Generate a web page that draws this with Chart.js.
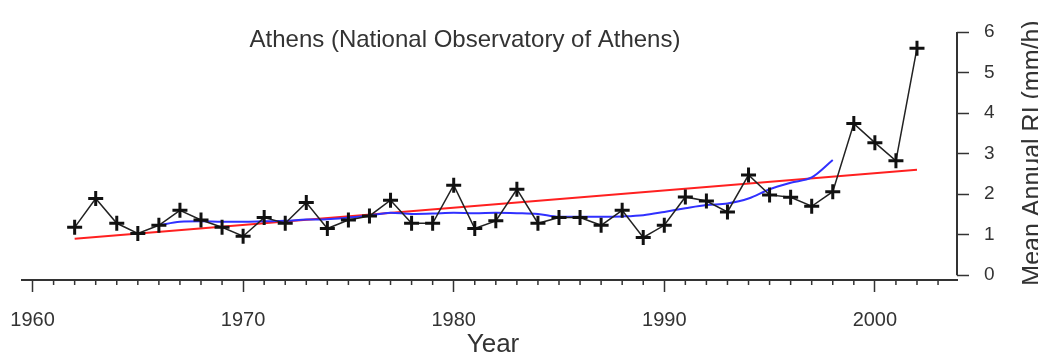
<!DOCTYPE html>
<html>
<head>
<meta charset="utf-8">
<script src="https://cdn.jsdelivr.net/npm/chart.js@4"></script>
<style>
  html, body { margin: 0; padding: 0; background: #fff; }
  #wrap { width: 1038px; height: 354px; }
</style>
</head>
<body>
<div id="wrap"><canvas id="chart"></canvas></div>
<script>
// Mean annual rain intensity, Athens (National Observatory of Athens)
const years = [1962, 1963, 1964, 1965, 1966, 1967, 1968, 1969, 1970, 1971,
               1972, 1973, 1974, 1975, 1976, 1977, 1978, 1979, 1980, 1981,
               1982, 1983, 1984, 1985, 1986, 1987, 1988, 1989, 1990, 1991,
               1992, 1993, 1994, 1995, 1996, 1997, 1998, 1999, 2000, 2001, 2002];
const riValues = [1.18, 1.89, 1.28, 1.03, 1.23, 1.60, 1.36, 1.18, 0.96, 1.42,
                  1.28, 1.79, 1.15, 1.36, 1.46, 1.85, 1.28, 1.28, 2.22, 1.15,
                  1.34, 2.12, 1.28, 1.42, 1.42, 1.23, 1.60, 0.93, 1.23, 1.93,
                  1.83, 1.56, 2.47, 1.98, 1.92, 1.70, 2.06, 3.74, 3.27, 2.82, 5.60];

// smoothed curve (blue)
const smoothYears = [1966, 1967, 1968, 1969, 1970, 1971, 1972, 1973, 1974, 1975,
                     1976, 1977, 1978, 1979, 1980, 1981, 1982, 1983, 1984, 1985,
                     1986, 1987, 1988, 1989, 1990, 1991, 1992, 1993, 1994, 1995,
                     1996, 1997, 1998];
const smoothValues = [1.23, 1.32, 1.33, 1.32, 1.32, 1.33, 1.34, 1.37, 1.38, 1.42,
                      1.47, 1.54, 1.51, 1.52, 1.54, 1.53, 1.54, 1.53, 1.51, 1.44,
                      1.44, 1.44, 1.45, 1.48, 1.56, 1.65, 1.73, 1.77, 1.89, 2.12,
                      2.28, 2.41, 2.84];

// linear trend (red)
const trendYears = [1962, 2002];
const trendValues = [0.90, 2.60];

const xTicks = [];
for (let y = 1960; y <= 2003; y++) xTicks.push(y);
const yTicks = [0, 1, 2, 3, 4, 5, 6];

const FONT = '"Liberation Sans", Arial, sans-serif';
const TXT = '#333';

const toPoints = (xs, ys) => xs.map((x, i) => ({ x: x, y: ys[i] }));

// titles, minor year ticks and the right axis line (0..6 only) drawn by hand
const extras = {
    id: 'extras',
    afterDraw(chart) {
        const c = chart.ctx;
        const xs = chart.scales.x;
        const ys = chart.scales.y;
        const area = chart.chartArea;
        c.save();
        c.strokeStyle = TXT;
        c.lineWidth = 1.5;
        xTicks.forEach(v => {
            if (v % 10 === 0) return;
            const px = xs.getPixelForValue(v);
            c.beginPath();
            c.moveTo(px, area.bottom);
            c.lineTo(px, area.bottom + 5);
            c.stroke();
        });

        c.lineWidth = 2;
        c.beginPath();
        c.moveTo(area.right, ys.getPixelForValue(yTicks[0]));
        c.lineTo(area.right, ys.getPixelForValue(yTicks[yTicks.length - 1]));
        c.stroke();

        c.fillStyle = TXT;
        c.textAlign = 'center';
        c.textBaseline = 'middle';
        c.font = '24px ' + FONT;
        c.fillText('Athens (National Observatory of Athens)', 465, 40);

        c.font = '26px ' + FONT;
        c.fillText('Year', 493, 345);

        c.font = '25px ' + FONT;
        c.translate(1033, 153);
        c.rotate(-Math.PI / 2);
        c.fillText('Mean Annual RI (mm/h)', 0, 0);
        c.restore();
    }
};

new Chart(document.getElementById('chart'), {
    type: 'line',
    data: {
        datasets: [{
            label: 'RI',
            data: toPoints(years, riValues),
            borderColor: '#222',
            borderWidth: 1.5,
            pointStyle: 'cross',
            pointRadius: 7.5,
            pointBorderWidth: 3,
            pointBorderColor: '#111',
            tension: 0,
            order: 1
        }, {
            label: 'smooth',
            data: toPoints(smoothYears, smoothValues),
            borderColor: '#3030ff',
            borderWidth: 2,
            pointRadius: 0,
            cubicInterpolationMode: 'monotone',
            order: 2
        }, {
            label: 'trend',
            data: toPoints(trendYears, trendValues),
            borderColor: '#ff2020',
            borderWidth: 2,
            pointRadius: 0,
            order: 3
        }]
    },
    options: {
        responsive: true,
        maintainAspectRatio: false,
        animation: false,
        layout: { padding: { left: 22, right: 0, top: 32, bottom: 0 } },
        plugins: { legend: { display: false }, tooltip: { enabled: false } },
        scales: {
            x: {
                type: 'linear',
                min: 1959.5,
                max: 2003.9,
                afterBuildTicks: s => { s.ticks = xTicks.map(v => ({ value: v })); },
                afterFit: s => { s.height = 74; s.paddingLeft = 0; s.paddingRight = 0; },
                grid: {
                    drawOnChartArea: false,
                    tickLength: 12,
                    tickWidth: 1.5,
                    tickColor: ctx => (ctx.tick && ctx.tick.value % 10 === 0) ? TXT : 'rgba(0,0,0,0)'
                },
                border: { color: TXT, width: 2 },
                ticks: {
                    autoSkip: false,
                    maxRotation: 0,
                    padding: 16,
                    color: TXT,
                    font: { family: FONT, size: 20 },
                    callback: v => (v % 10 === 0 ? String(v) : '')
                }
            },
            y: {
                type: 'linear',
                position: 'right',
                min: -0.12,
                max: 6,
                afterBuildTicks: s => { s.ticks = yTicks.map(v => ({ value: v })); },
                afterFit: s => { s.width = 81; },
                grid: {
                    drawOnChartArea: false,
                    tickLength: 12,
                    tickWidth: 1.5,
                    tickColor: TXT
                },
                border: { display: false },
                ticks: {
                    padding: 15,
                    color: TXT,
                    font: { family: FONT, size: 19 }
                }
            }
        }
    },
    plugins: [extras]
});
</script>
</body>
</html>
